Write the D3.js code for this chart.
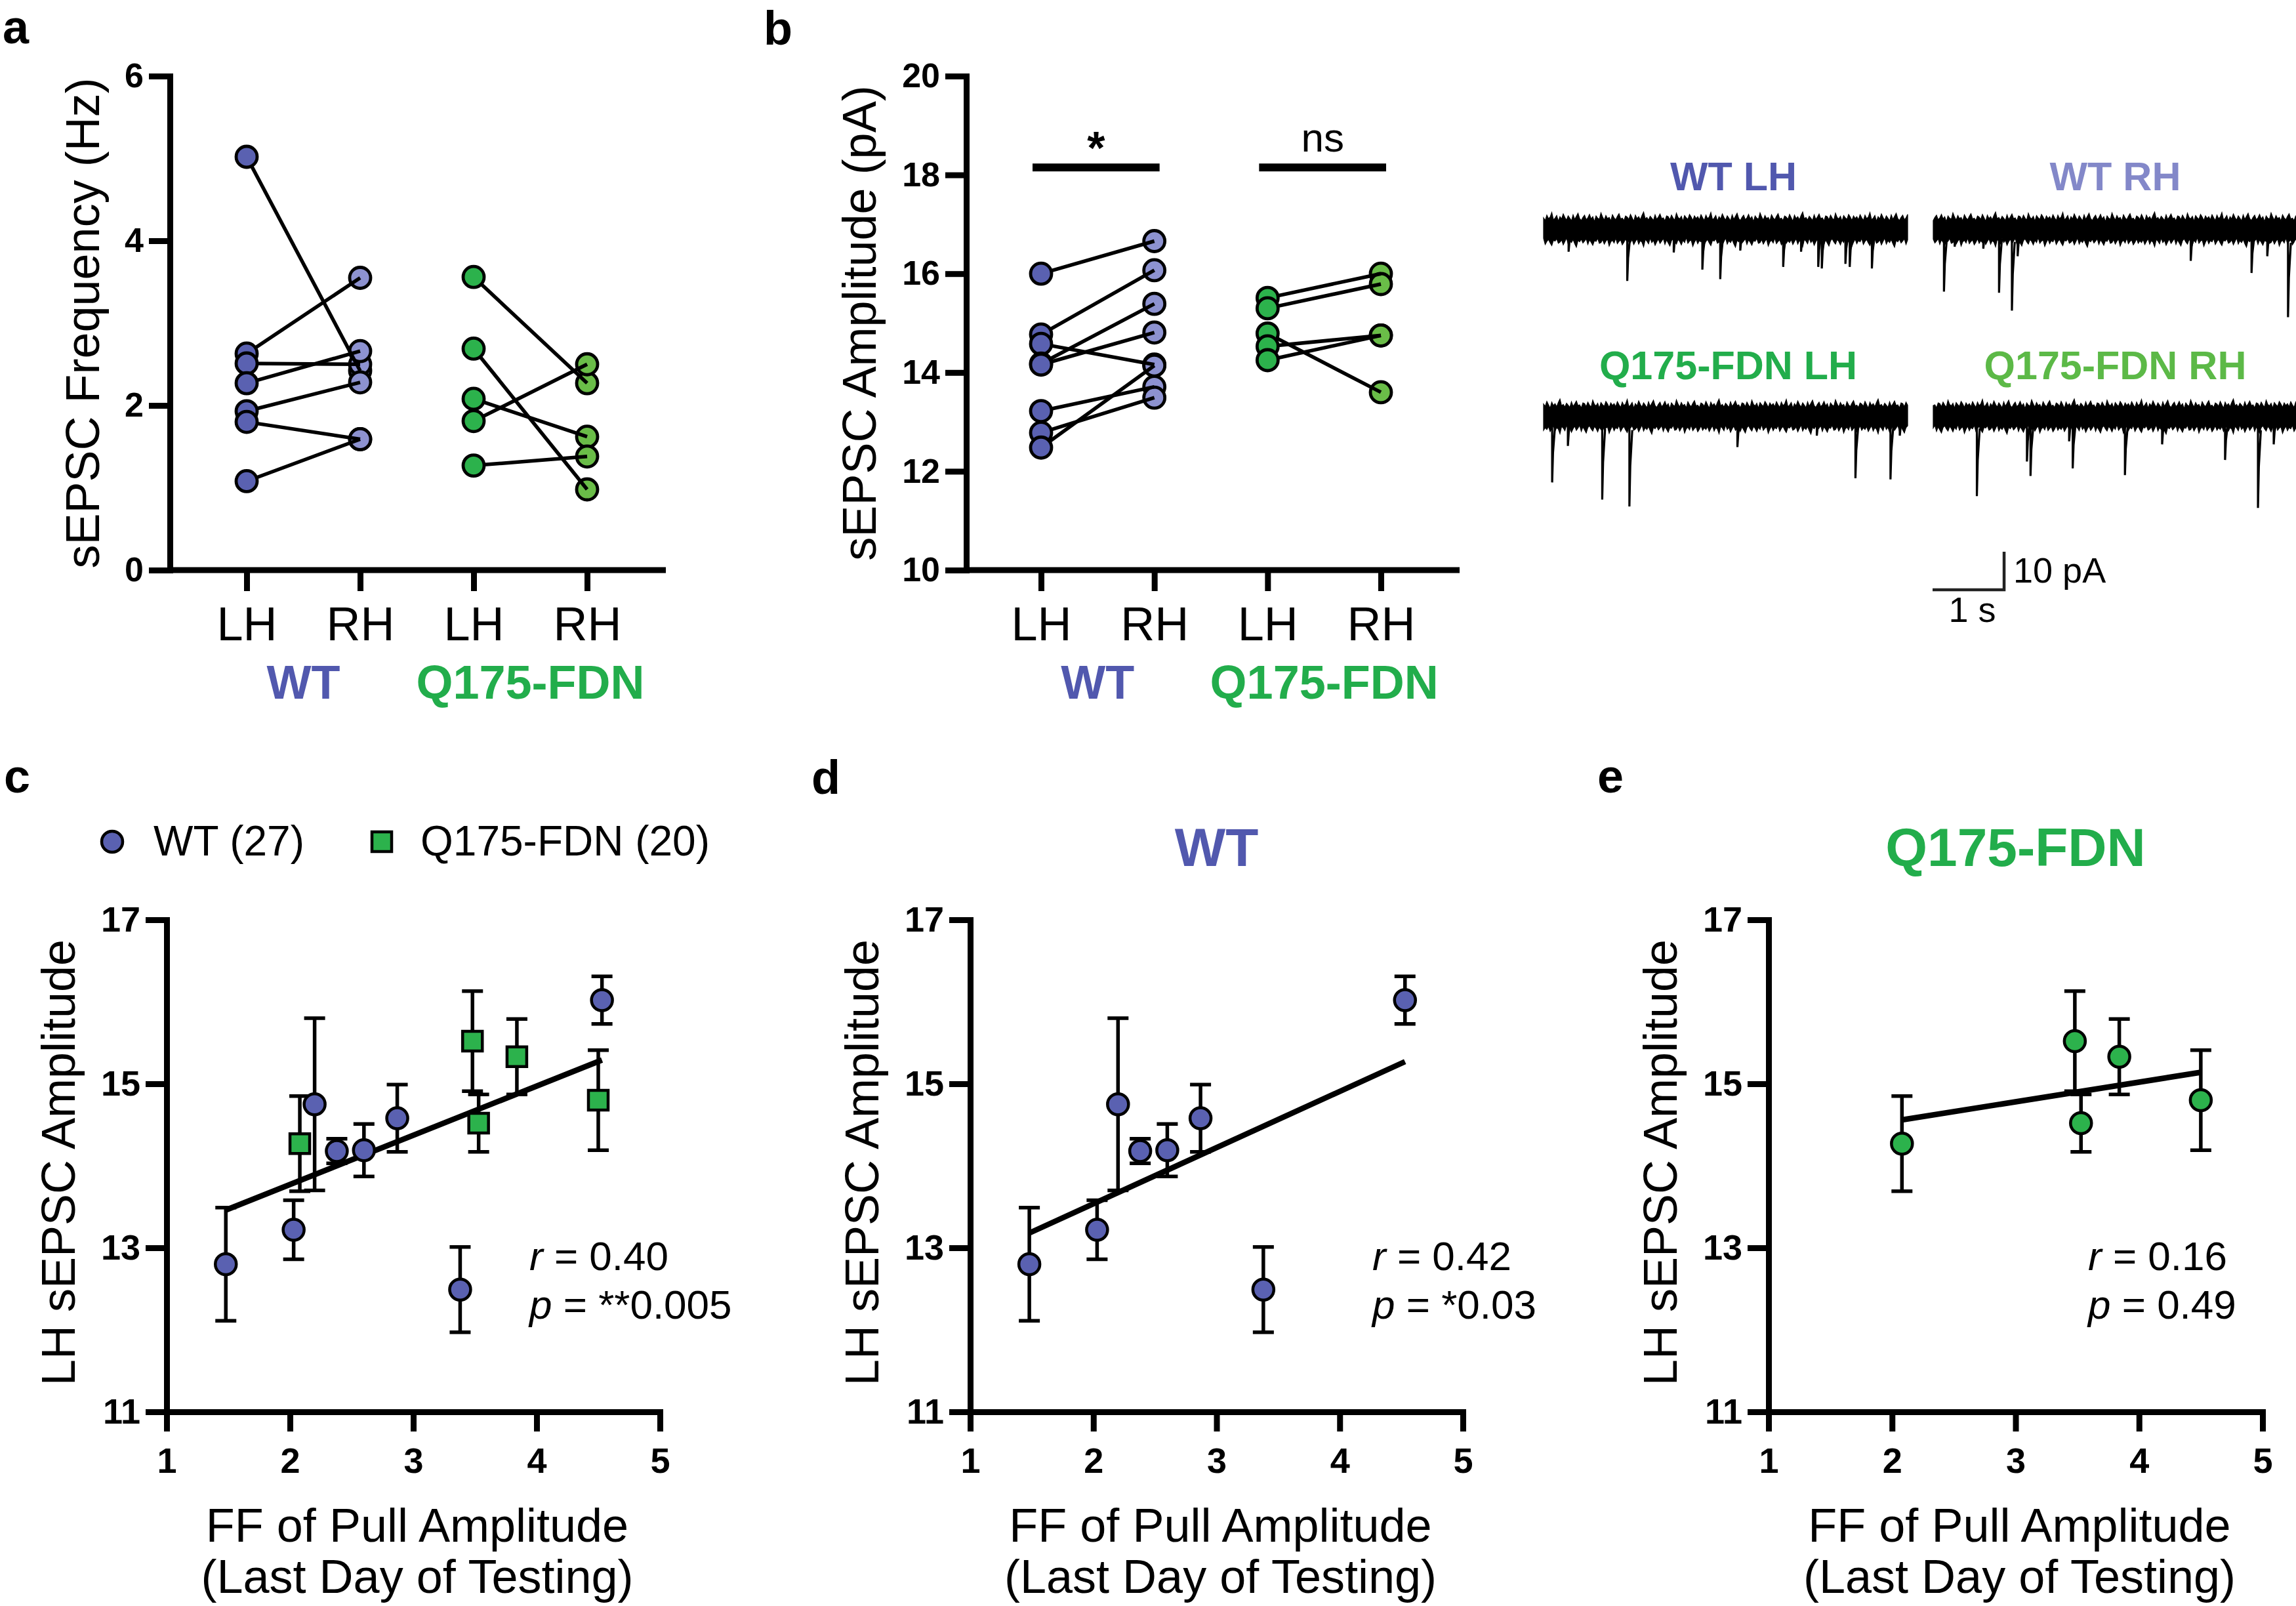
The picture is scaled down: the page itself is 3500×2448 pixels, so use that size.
<!DOCTYPE html>
<html><head><meta charset="utf-8">
<script src="https://cdn.jsdelivr.net/npm/d3@7"></script>
<style>
body{margin:0;background:#fff;}
svg text{font-family:"Liberation Sans",Arial,Helvetica,sans-serif;}
</style>
</head><body>
<svg id="fig" width="3500" height="2448" xmlns="http://www.w3.org/2000/svg"></svg>
<script>
// ---------------- DATA ----------------
const pairCategories = ["LH", "RH", "LH", "RH"];
const pairKeys = ["WT LH", "WT RH", "Q LH", "Q RH"];
const groupLabels = ["WT", "Q175-FDN"];

// panel a: sEPSC frequency (Hz), paired LH -> RH
const freqTicks = [0, 2, 4, 6];
const freqWT_LH = [5.02, 2.63, 2.51, 2.27, 1.93, 1.80, 1.08];
const freqWT_RH = [2.42, 3.55, 2.50, 2.66, 2.28, 1.59, 1.59];
const freqQ_LH  = [3.56, 2.69, 2.08, 1.81, 1.27];
const freqQ_RH  = [2.27, 0.98, 1.62, 2.50, 1.38];

// panel b: sEPSC amplitude (pA), paired LH -> RH
const ampTicks = [10, 12, 14, 16, 18, 20];
const ampWT_LH = [16.00, 14.77, 14.58, 14.18, 14.16, 13.22, 12.78, 12.48];
const ampWT_RH = [16.66, 16.07, 14.16, 15.39, 14.81, 13.71, 13.49, 14.14];
const ampQ_LH  = [15.51, 15.30, 14.79, 14.53, 14.25];
const ampQ_RH  = [16.00, 15.79, 13.60, 14.75, 14.75];
const sigLabels = ["*", "ns"];
const sigLevel = 18.15;

// panels c-e: LH amplitude vs FF of pull amplitude
const ffTicks = [1, 2, 3, 4, 5];
const lhTicks = [11, 13, 15, 17];
const wtFF  = [1.48, 2.03, 2.20, 2.38, 2.60, 2.87, 3.38, 4.53];
const wtAmp = [12.80, 13.22, 14.75, 14.18, 14.19, 14.58, 12.49, 16.02];
const wtSEM = [0.69, 0.36, 1.05, 0.15, 0.32, 0.41, 0.52, 0.29];
const qFF   = [2.08, 3.48, 3.53, 3.84, 4.50];
const qAmp  = [14.27, 15.52, 14.52, 15.33, 14.80];
const qSEM  = [0.58, 0.61, 0.35, 0.46, 0.61];
const fitAllX = [1.48, 4.53], fitAllY = [13.46, 15.29];
const fitWTX  = [1.48, 4.53], fitWTY  = [13.18, 15.27];
const fitQX   = [2.08, 4.50], fitQY   = [14.56, 15.14];
const statsC = ["0.40", "**0.005"];
const statsD = ["0.42", "*0.03"];
const statsE = ["0.16", "0.49"];
const legendLabels = ["WT (27)", "Q175-FDN (20)"];

// example traces (time in s, event amplitude in pA)
const traceDuration = 5.09;
const traceLabels = ["WT LH", "WT RH", "Q175-FDN LH", "Q175-FDN RH"];
const evWTLH_t = [0.35, 1.17, 1.82, 2.22, 2.47, 2.75, 3.35, 3.60, 3.84, 3.89, 4.22, 4.28, 4.59];
const evWTLH_a = [5.8, 13.5, 6.0, 10.5, 13.0, 5.5, 9.8, 5.8, 9.8, 10.2, 9.0, 9.8, 10.2];
const evWTRH_t = [0.15, 0.30, 0.70, 0.92, 1.10, 1.18, 3.60, 4.45, 4.67, 4.96];
const evWTRH_a = [16.3, 4.5, 5.0, 16.6, 21.3, 7.0, 8.2, 11.4, 7.0, 23.0];
const evQLH_t  = [0.12, 0.34, 0.82, 1.20, 2.71, 3.82, 4.36, 4.85, 4.98];
const evQLH_a  = [17.3, 7.7, 21.8, 23.6, 8.0, 5.0, 16.2, 16.5, 5.0];
const evQRH_t  = [0.61, 1.31, 1.36, 1.90, 1.95, 2.68, 3.20, 4.08, 4.54, 4.76];
const evQRH_a  = [20.9, 11.8, 15.6, 6.5, 13.6, 15.4, 7.3, 11.4, 24.0, 7.3];
// baseline noise envelope (pA), read as a typical band amplitude
const noisePA = [3.1,2.4,3.8,2.9,3.3,4.5,2.6,3.0,3.7,2.2,3.4,2.8,4.1,3.2,2.5,3.6,3.0,2.3,3.9,2.7,
                 3.5,4.3,2.9,2.4,3.2,3.8,2.6,3.1,4.0,2.8,3.4,2.1,3.6,3.0,2.7,4.4,3.3,2.5,3.7,2.9,
                 3.2,2.3,3.9,3.1,2.6,3.5,4.2,2.8,3.0,2.4,3.6,3.3,2.7,4.0,3.1,2.2,3.8,2.9,3.4,2.6,
                 3.7,4.6,2.8,3.2,2.5,3.5,3.0,2.4,3.9,2.7,3.3,4.1,2.9,3.1,2.3,3.6,3.4,2.6,3.8,3.0,
                 2.5,4.3,3.2,2.8,3.5,2.2,3.7,3.1,2.7,4.0,3.3,2.4,3.6,2.9,3.4,2.6,3.9];
const scaleBarTime = 1, scaleBarAmp = 10;

// ---------------- STYLE ----------------
const FONT = "'Liberation Sans', Arial, Helvetica, sans-serif";
const COL = {
  wtL: "#5a61b1", wtR: "#8d92d0", qL: "#2cb24c", qR: "#6abd48",
  wtText: "#5158ae", wtRText: "#8388c9", qText: "#22ad4b", qRText: "#5cb947"
};
const svg = d3.select("#fig");

function styleAxis(g, size, bold) {
  g.select(".domain").attr("stroke", "#000").attr("stroke-width", 9).attr("stroke-linecap", "square");
  g.selectAll(".tick line").attr("stroke", "#000").attr("stroke-width", 9);
  g.selectAll(".tick text").attr("fill", "#000")
    .style("font-family", FONT).style("font-size", size + "px")
    .style("font-weight", bold ? "bold" : "normal");
}
function txt(x, y, s, size, opts = {}) {
  return svg.append("text").attr("x", x).attr("y", y).text(s)
    .style("font-family", FONT).style("font-size", size + "px")
    .style("font-weight", opts.bold ? "bold" : "normal")
    .attr("fill", opts.fill || "#000")
    .attr("text-anchor", opts.anchor || "start");
}
function rotLabel(x, y, s, size) {
  svg.append("text").attr("transform", `translate(${x},${y}) rotate(-90)`)
    .attr("text-anchor", "middle").text(s)
    .style("font-family", FONT).style("font-size", size + "px").attr("fill", "#000");
}

// ---------------- PANEL LETTERS ----------------
txt(4, 66, "a", 72, {bold: true});
txt(1164, 68, "b", 72, {bold: true});
txt(6, 1208, "c", 72, {bold: true});
txt(1237, 1210, "d", 72, {bold: true});
txt(2435, 1208, "e", 72, {bold: true});

// ---------------- PAIRED PANELS ----------------
function pairPanel(cfg) {
  const y = d3.scaleLinear().domain([cfg.ticks[0], cfg.ticks[cfg.ticks.length - 1]]).range([cfg.yBottom, cfg.yTop]);
  const x = d3.scalePoint().domain(pairKeys).range([cfg.xFirst, cfg.xLast]);
  const g = svg.append("g");
  g.append("line").attr("x1", cfg.axisX).attr("x2", cfg.xEnd)
    .attr("y1", cfg.yBottom).attr("y2", cfg.yBottom).attr("stroke", "#000").attr("stroke-width", 9);
  const xa = g.append("g").attr("transform", `translate(0,${cfg.yBottom})`)
    .call(d3.axisBottom(x).tickSize(32).tickSizeOuter(0).tickPadding(24).tickFormat((d, i) => pairCategories[i]));
  xa.select(".domain").remove();
  styleAxis(xa, 72, false);
  const ya = g.append("g").attr("transform", `translate(${cfg.axisX},0)`)
    .call(d3.axisLeft(y).tickValues(cfg.ticks).tickSize(32).tickSizeOuter(0).tickPadding(8).tickFormat(d3.format("d")));
  styleAxis(ya, 52, true);

  const groups = [
    {lh: cfg.wtL, rh: cfg.wtR, kl: "WT LH", kr: "WT RH", fl: COL.wtL, fr: COL.wtR},
    {lh: cfg.qL, rh: cfg.qR, kl: "Q LH", kr: "Q RH", fl: COL.qL, fr: COL.qR}
  ];
  groups.forEach(gr => {
    g.append("g").selectAll("circle").data(gr.rh).join("circle")
      .attr("cx", x(gr.kr)).attr("cy", d => y(d)).attr("r", 16)
      .attr("fill", gr.fr).attr("stroke", "#000").attr("stroke-width", 4.8);
    g.append("g").selectAll("line").data(gr.lh).join("line")
      .attr("x1", x(gr.kl)).attr("y1", d => y(d))
      .attr("x2", x(gr.kr)).attr("y2", (d, i) => y(gr.rh[i]))
      .attr("stroke", "#000").attr("stroke-width", 5.5);
    g.append("g").selectAll("circle").data(gr.lh).join("circle")
      .attr("cx", x(gr.kl)).attr("cy", d => y(d)).attr("r", 16)
      .attr("fill", gr.fl).attr("stroke", "#000").attr("stroke-width", 4.8);
  });
  txt((x("WT LH") + x("WT RH")) / 2, cfg.groupY, groupLabels[0], 72, {bold: true, anchor: "middle", fill: COL.wtText});
  txt((x("Q LH") + x("Q RH")) / 2, cfg.groupY, groupLabels[1], 72, {bold: true, anchor: "middle", fill: COL.qText});
  rotLabel(cfg.labelX, (cfg.yTop + cfg.yBottom) / 2, cfg.label, 72);
  return {x, y, g};
}

pairPanel({
  ticks: freqTicks, yTop: 116, yBottom: 869, axisX: 259, xFirst: 376, xLast: 895, xEnd: 1015,
  wtL: freqWT_LH, wtR: freqWT_RH, qL: freqQ_LH, qR: freqQ_RH, groupY: 1065,
  labelX: 151, label: "sEPSC Frequency (Hz)"
});

const pb = pairPanel({
  ticks: ampTicks, yTop: 116, yBottom: 869, axisX: 1473, xFirst: 1587, xLast: 2105, xEnd: 2225,
  wtL: ampWT_LH, wtR: ampWT_RH, qL: ampQ_LH, qR: ampQ_RH, groupY: 1065,
  labelX: 1335, label: "sEPSC Amplitude (pA)"
});
// significance bars
[["WT LH", "WT RH"], ["Q LH", "Q RH"]].forEach((pair, i) => {
  const x1 = pb.x(pair[0]) - 13, x2 = pb.x(pair[1]) + 8;
  svg.append("line").attr("x1", x1).attr("x2", x2)
    .attr("y1", pb.y(sigLevel)).attr("y2", pb.y(sigLevel))
    .attr("stroke", "#000").attr("stroke-width", 12);
  if (i === 0) txt((x1 + x2) / 2, 250, sigLabels[i], 70, {anchor: "middle", bold: true});
  else txt((x1 + x2) / 2, pb.y(sigLevel) - 24, sigLabels[i], 62, {anchor: "middle"});
});

// ---------------- TRACES ----------------
function drawTrace(cfg) {
  const tx = d3.scaleLinear().domain([0, traceDuration]).range([cfg.x0, cfg.x0 + 555]);
  const ty = d3.scaleLinear().domain([0, scaleBarAmp]).range([cfg.base, cfg.base + 58]);
  const nS = 222;
  const idx = d3.range(nS + 1);
  const L = noisePA.length;
  const area = d3.area()
    .x(i => tx(i * traceDuration / nS))
    .y0(i => ty(-noisePA[(i + cfg.off) % L]))
    .y1(i => ty(noisePA[(i + cfg.off + 41) % L]));
  svg.append("path").datum(idx).attr("d", area).attr("fill", "#000")
    .attr("stroke", "#000").attr("stroke-width", 1.2);
  cfg.t.forEach((t, k) => {
    const a = cfg.a[k];
    const p = d3.path();
    p.moveTo(tx(t), ty(0));
    p.lineTo(tx(t), ty(a));
    p.lineTo(tx(t + 0.012), ty(a * 0.55));
    p.lineTo(tx(t + 0.04), ty(a * 0.15));
    svg.append("path").attr("d", p.toString()).attr("fill", "none")
      .attr("stroke", "#000").attr("stroke-width", 3.2).attr("stroke-linejoin", "miter");
  });
  txt(cfg.x0 + 555 / 2 + cfg.lx, cfg.ly, cfg.label, 61, {bold: true, anchor: "middle", fill: cfg.color});
  return {tx, ty};
}
drawTrace({x0: 2353, base: 350, t: evWTLH_t, a: evWTLH_a, off: 0, label: traceLabels[0], lx: 12, ly: 290, color: COL.wtText});
drawTrace({x0: 2947, base: 350, t: evWTRH_t, a: evWTRH_a, off: 23, label: traceLabels[1], lx: 0, ly: 290, color: COL.wtRText});
drawTrace({x0: 2353, base: 635, t: evQLH_t, a: evQLH_a, off: 51, label: traceLabels[2], lx: 4, ly: 578, color: COL.qText});
drawTrace({x0: 2947, base: 635, t: evQRH_t, a: evQRH_a, off: 72, label: traceLabels[3], lx: 0, ly: 578, color: COL.qRText});
// scale bar
{
  const sx = d3.scaleLinear().domain([0, traceDuration]).range([2946, 2946 + 555]);
  const sy = d3.scaleLinear().domain([0, scaleBarAmp]).range([899, 841]);
  const p = d3.path();
  p.moveTo(sx(0), sy(0)); p.lineTo(sx(scaleBarTime), sy(0)); p.lineTo(sx(scaleBarTime), sy(scaleBarAmp));
  svg.append("path").attr("d", p.toString()).attr("fill", "none").attr("stroke", "#222").attr("stroke-width", 4.5);
  txt(sx(scaleBarTime) + 14, 888, scaleBarAmp + " pA", 54);
  txt(sx(scaleBarTime / 2) + 6, 948, scaleBarTime + " s", 54, {anchor: "middle"});
}

// ---------------- SCATTER PANELS ----------------
function scatterPanel(cfg) {
  const x = d3.scaleLinear().domain([ffTicks[0], ffTicks[ffTicks.length - 1]]).range([cfg.axisX, cfg.xEnd]);
  const y = d3.scaleLinear().domain([lhTicks[0], lhTicks[lhTicks.length - 1]]).range([2152, 1402]);
  const g = svg.append("g");
  const xa = g.append("g").attr("transform", "translate(0,2152)")
    .call(d3.axisBottom(x).tickValues(ffTicks).tickSize(30).tickSizeOuter(0).tickPadding(25).tickFormat(d3.format("d")));
  styleAxis(xa, 54, true);
  const ya = g.append("g").attr("transform", `translate(${cfg.axisX},0)`)
    .call(d3.axisLeft(y).tickValues(lhTicks).tickSize(32).tickSizeOuter(0).tickPadding(8).tickFormat(d3.format("d")));
  styleAxis(ya, 54, true);

  cfg.series.forEach(s => {
    const eb = g.append("g").attr("stroke", "#000").attr("stroke-width", 5.5).attr("fill", "none");
    s.xs.forEach((xv, i) => {
      const cx = x(xv), hi = y(s.ys[i] + s.es[i]), lo = y(s.ys[i] - s.es[i]);
      eb.append("line").attr("x1", cx).attr("x2", cx).attr("y1", hi).attr("y2", lo);
      eb.append("line").attr("x1", cx - 16).attr("x2", cx + 16).attr("y1", hi).attr("y2", hi);
      eb.append("line").attr("x1", cx - 16).attr("x2", cx + 16).attr("y1", lo).attr("y2", lo);
    });
  });
  g.append("line").attr("x1", x(cfg.fitX[0])).attr("y1", y(cfg.fitY[0]))
    .attr("x2", x(cfg.fitX[1])).attr("y2", y(cfg.fitY[1]))
    .attr("stroke", "#000").attr("stroke-width", 8.5);
  cfg.series.forEach(s => {
    s.xs.forEach((xv, i) => {
      if (s.shape === "square") {
        g.append("rect").attr("x", x(xv) - 15).attr("y", y(s.ys[i]) - 15).attr("width", 30).attr("height", 30)
          .attr("fill", s.fill).attr("stroke", "#000").attr("stroke-width", 4.5);
      } else {
        g.append("circle").attr("cx", x(xv)).attr("cy", y(s.ys[i])).attr("r", 16)
          .attr("fill", s.fill).attr("stroke", "#000").attr("stroke-width", 4.5);
      }
    });
  });
  const t1 = txt(cfg.statX, 1936, "", 62);
  t1.append("tspan").style("font-style", "italic").text("r");
  t1.append("tspan").text(" = " + cfg.stats[0]);
  const t2 = txt(cfg.statX, 2010, "", 62);
  t2.append("tspan").style("font-style", "italic").text("p");
  t2.append("tspan").text(" = " + cfg.stats[1]);
  rotLabel(cfg.axisX - 140, 1772, "LH sEPSC Amplitude", 72);
  const mid = (cfg.axisX + cfg.xEnd) / 2 + 6;
  txt(mid, 2350, "FF of Pull Amplitude", 72, {anchor: "middle"});
  txt(mid, 2428, "(Last Day of Testing)", 72, {anchor: "middle"});
  if (cfg.title) txt((cfg.axisX + cfg.xEnd) / 2, 1320, cfg.title, 82, {bold: true, anchor: "middle", fill: cfg.titleColor});
  return {x, y};
}

scatterPanel({
  axisX: 254, xEnd: 1006, fitX: fitAllX, fitY: fitAllY, stats: statsC, statX: 807,
  series: [
    {xs: wtFF, ys: wtAmp, es: wtSEM, fill: COL.wtL, shape: "circle"},
    {xs: qFF, ys: qAmp, es: qSEM, fill: COL.qL, shape: "square"}
  ]
});
scatterPanel({
  axisX: 1479, xEnd: 2230, fitX: fitWTX, fitY: fitWTY, stats: statsD, statX: 2092,
  title: groupLabels[0], titleColor: COL.wtText,
  series: [{xs: wtFF, ys: wtAmp, es: wtSEM, fill: COL.wtL, shape: "circle"}]
});
scatterPanel({
  axisX: 2696, xEnd: 3449, fitX: fitQX, fitY: fitQY, stats: statsE, statX: 3183,
  title: groupLabels[1], titleColor: COL.qText,
  series: [{xs: qFF, ys: qAmp, es: qSEM, fill: COL.qL, shape: "circle"}]
});

// legend (panel c)
svg.append("circle").attr("cx", 171).attr("cy", 1283).attr("r", 16)
  .attr("fill", COL.wtL).attr("stroke", "#000").attr("stroke-width", 4.5);
txt(234, 1304, legendLabels[0], 64);
svg.append("rect").attr("x", 567).attr("y", 1268).attr("width", 30).attr("height", 30)
  .attr("fill", COL.qL).attr("stroke", "#000").attr("stroke-width", 4.5);
txt(641, 1304, legendLabels[1], 64);
</script>
</body></html>
